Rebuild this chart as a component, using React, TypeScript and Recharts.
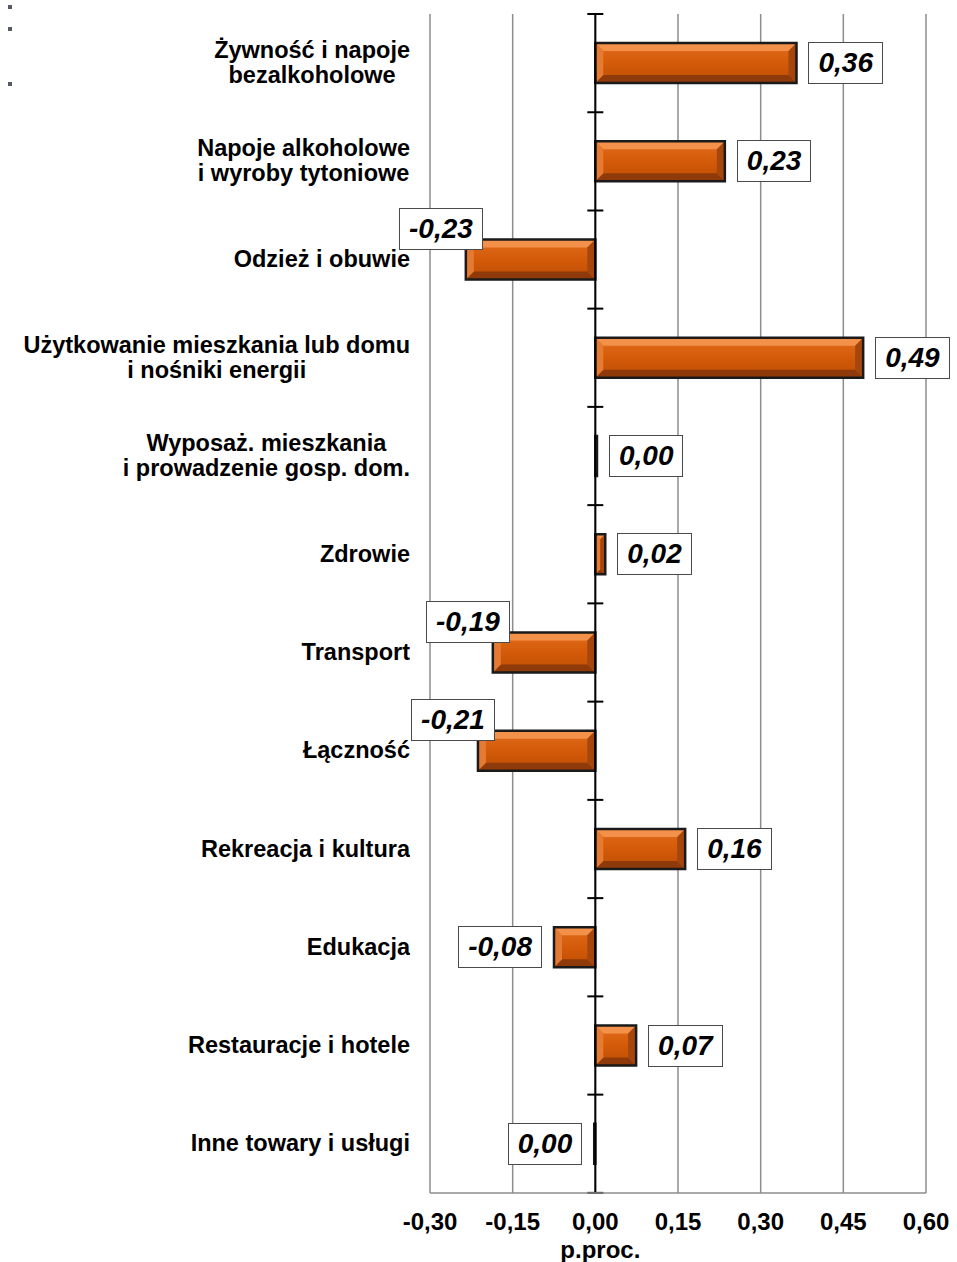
import React from "react";
import {
  BarChart,
  Bar,
  XAxis,
  YAxis,
  CartesianGrid,
  ReferenceLine,
  LabelList,
} from "recharts";

const categories = [
  "Żywność i napoje\nbezalkoholowe",
  "Napoje alkoholowe\ni wyroby tytoniowe",
  "Odzież i obuwie",
  "Użytkowanie mieszkania lub domu\ni nośniki energii",
  "Wyposaż. mieszkania\ni prowadzenie gosp. dom.",
  "Zdrowie",
  "Transport",
  "Łączność",
  "Rekreacja i kultura",
  "Edukacja",
  "Restauracje i hotele",
  "Inne towary i usługi",
];

const values = [0.365, 0.235, -0.235, 0.486, 0.003, 0.018, -0.186, -0.213, 0.163, -0.075, 0.074, -0.002];

const valueLabels = ["0,36", "0,23", "-0,23", "0,49", "0,00", "0,02", "-0,19", "-0,21", "0,16", "-0,08", "0,07", "0,00"];

const xTicks = [-0.3, -0.15, 0, 0.15, 0.3, 0.45, 0.6];
const xTickLabels = ["-0,30", "-0,15", "0,00", "0,15", "0,30", "0,45", "0,60"];

const axisTitle = "p.proc.";

const data = categories.map((name, i) => ({ name, value: values[i], label: valueLabels[i] }));

const FONT = '"Liberation Sans", Arial, sans-serif';
const CHART_W = 945;
const CHART_H = 1254;
const MARGIN = { top: 6, right: 27, bottom: 0, left: 0 };
const Y_AXIS_W = 422;
const X_AXIS_H = 69;
const PLOT_H = CHART_H - MARGIN.top - MARGIN.bottom - X_AXIS_H;
const BAND = PLOT_H / categories.length;

function BevelBar(props: any) {
  const { x, y, width, height, index } = props;
  const v = values[index];
  const L = Math.min(x, x + width);
  const W = Math.abs(width);
  const T = y;
  const H = height;
  const zx = v >= 0 ? L : L + W;
  const cy = T + H / 2;
  const bandTop = cy - BAND / 2;
  const b = Math.max(0, Math.min(8, W / 2, H / 2));
  const gid = `barGrad${index}`;
  return (
    <g>
      <defs>
        <linearGradient id={gid} x1="0" y1="0" x2="0" y2="1">
          <stop offset="0%" stopColor="#E26E1E" />
          <stop offset="50%" stopColor="#D35A08" />
          <stop offset="100%" stopColor="#BE4E06" />
        </linearGradient>
      </defs>
      {W > 0 && (
        <g>
          <rect x={L} y={T} width={W} height={H} fill={`url(#${gid})`} />
          <polygon points={`${L},${T} ${L + W},${T} ${L + W - b},${T + b} ${L + b},${T + b}`} fill="#F3914A" />
          <polygon points={`${L},${T + H} ${L + W},${T + H} ${L + W - b},${T + H - b} ${L + b},${T + H - b}`} fill="#8E3A0A" />
          <polygon points={`${L},${T} ${L + b},${T + b} ${L + b},${T + H - b} ${L},${T + H}`} fill="#E57A32" />
          <polygon points={`${L + W},${T} ${L + W - b},${T + b} ${L + W - b},${T + H - b} ${L + W},${T + H}`} fill="#A4460E" />
        </g>
      )}
      <rect x={L} y={T} width={Math.max(W, 0.8)} height={H} fill="none" stroke="#1a1a1a" strokeWidth={2.5} />
      <line x1={zx - 8} x2={zx + 8} y1={bandTop} y2={bandTop} stroke="#000" strokeWidth={2} />
      {index === categories.length - 1 && (
        <line x1={zx - 8} x2={zx + 8} y1={bandTop + BAND} y2={bandTop + BAND} stroke="#000" strokeWidth={2} />
      )}
    </g>
  );
}

function ValueLabel(props: any) {
  const vb = props.viewBox && props.viewBox.height !== undefined ? props.viewBox : props;
  const { x, y, width, height } = vb;
  const index = props.index;
  const v = values[index];
  const text = valueLabels[index];
  const left = Math.min(x, x + width);
  const right = Math.max(x, x + width);
  const cy = y + height / 2;
  const boxH = 42;
  const FW = 200;
  let fx: number;
  let fy = cy - boxH / 2;
  let justify = "flex-start";
  if (v >= 0) {
    fx = right + 12;
  } else if (v < -0.1) {
    fx = left + 17 - FW;
    fy = cy - boxH / 2 - 31;
    justify = "flex-end";
  } else {
    fx = left - 12 - FW;
    justify = "flex-end";
  }
  return (
    <foreignObject x={fx} y={fy} width={FW} height={boxH}>
      <div style={{ display: "flex", justifyContent: justify, width: FW, height: boxH }}>
        <div
          style={{
            boxSizing: "border-box",
            height: boxH,
            lineHeight: `${boxH - 2}px`,
            padding: "0 9px",
            border: "1px solid #4a4a4a",
            background: "#fff",
            fontFamily: FONT,
            fontWeight: "bold",
            fontStyle: "italic",
            fontSize: 28,
            color: "#000",
            whiteSpace: "nowrap",
          }}
        >
          {text}
        </div>
      </div>
    </foreignObject>
  );
}

function CategoryTick(props: any) {
  const { x, y, payload } = props;
  const lines = String(payload.value).split("\n");
  const rightEdge = x - 20;
  return (
    <foreignObject x={0} y={y - 45} width={rightEdge} height={90}>
      <div
        style={{
          display: "flex",
          alignItems: "center",
          justifyContent: "flex-end",
          width: rightEdge,
          height: 90,
        }}
      >
        <div
          style={{
            textAlign: "center",
            fontFamily: FONT,
            fontWeight: "bold",
            fontSize: 23.5,
            lineHeight: "25px",
            color: "#000",
            whiteSpace: "nowrap",
          }}
        >
          {lines.map((l, i) => (
            <div key={i}>{l}</div>
          ))}
        </div>
      </div>
    </foreignObject>
  );
}

function ValueTick(props: any) {
  const { x, y, payload } = props;
  const idx = xTicks.findIndex((t) => Math.abs(t - payload.value) < 1e-9);
  const label = idx >= 0 ? xTickLabels[idx] : String(payload.value);
  return (
    <text x={x} y={y + 37} textAnchor="middle" fontFamily={FONT} fontWeight="bold" fontSize={24} fill="#000">
      {label}
    </text>
  );
}

function AxisTitle(props: any) {
  const vb = props.viewBox || {};
  const zeroX = vb.x + (vb.width * 0.3) / 0.9 + 5;
  return (
    <text x={zeroX} y={vb.y + 65} textAnchor="middle" fontFamily={FONT} fontWeight="bold" fontSize={24} fill="#000">
      {axisTitle}
    </text>
  );
}

const dotStyle = (top: number): React.CSSProperties => ({
  position: "absolute",
  left: 8,
  top,
  width: 4,
  height: 4,
  background: "#555a66",
});

export default function App() {
  return (
    <div style={{ position: "fixed", left: 0, top: 0, width: 957, height: 1262, background: "#fff", overflow: "hidden" }}>
      <div style={dotStyle(5)} />
      <div style={dotStyle(27)} />
      <div style={dotStyle(82)} />
      <div style={{ position: "absolute", left: 8, top: 8 }}>
        <BarChart width={CHART_W} height={CHART_H} data={data} layout="vertical" margin={MARGIN}>
          <CartesianGrid horizontal={false} vertical={true} stroke="#8c8c8c" strokeWidth={1.5} />
          <XAxis
            type="number"
            domain={[-0.3, 0.6]}
            ticks={xTicks}
            interval={0}
            height={X_AXIS_H}
            tickLine={false}
            tickSize={0}
            tickMargin={0}
            axisLine={{ stroke: "#8c8c8c", strokeWidth: 1.5 }}
            tick={<ValueTick />}
            label={<AxisTitle />}
            allowDataOverflow={true}
          />
          <YAxis
            type="category"
            dataKey="name"
            width={Y_AXIS_W}
            interval={0}
            tickLine={false}
            tickSize={0}
            tickMargin={0}
            axisLine={false}
            tick={<CategoryTick />}
          />
          <ReferenceLine x={0} stroke="#000" strokeWidth={2} />
          <Bar dataKey="value" barSize={40} shape={<BevelBar />} isAnimationActive={false}>
            <LabelList dataKey="label" content={<ValueLabel />} />
          </Bar>
        </BarChart>
      </div>
    </div>
  );
}
